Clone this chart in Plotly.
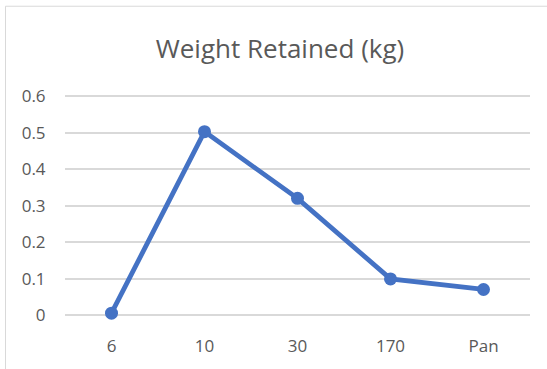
import plotly.graph_objects as go

# Sieve sizes and retained mass
sieves = ["6", "10", "30", "170", "Pan"]
weight_kg = [0.005, 0.503, 0.32, 0.099, 0.07]
y_ticks = [0, 0.1, 0.2, 0.3, 0.4, 0.5, 0.6]
y_tick_text = ["0", "0.1", "0.2", "0.3", "0.4", "0.5", "0.6"]

W, H = 547, 369
ML, MR, MT, MB = 65, 17, 89, 52
plot_w = W - ML - MR
plot_h = H - MT - MB

def px_x(x):
    return (x - ML) / plot_w

def px_y(y):
    return (H - MB - y) / plot_h

fig = go.Figure(
    go.Scatter(
        x=sieves,
        y=weight_kg,
        mode="lines+markers",
        line=dict(color="#4472C4", width=4.8),
        marker=dict(color="#4472C4", size=13),
        cliponaxis=False,
        hoverinfo="skip",
    )
)

fig.update_layout(
    width=W,
    height=H,
    margin=dict(l=ML, r=MR, t=MT, b=MB),
    paper_bgcolor="white",
    plot_bgcolor="white",
    showlegend=False,
    title=dict(
        text="Weight Retained (kg)",
        x=280 / W,
        xanchor="center",
        y=1 - 49 / H,
        yanchor="middle",
        font=dict(family="Open Sans", size=26, color="#595959"),
    ),
    font=dict(family="Open Sans", color="#595959"),
    shapes=[
        dict(
            type="rect",
            xref="paper",
            yref="paper",
            x0=px_x(5.5),
            x1=px_x(560),
            y0=px_y(380),
            y1=px_y(5.5),
            line=dict(color="#D9D9D9", width=1),
            fillcolor="rgba(0,0,0,0)",
            layer="below",
        )
    ],
)

fig.update_xaxes(
    type="category",
    range=[-0.5, 4.5],
    showgrid=False,
    showline=False,
    zeroline=False,
    ticks="outside",
    ticklen=16,
    tickcolor="rgba(0,0,0,0)",
    tickfont=dict(family="Open Sans", size=17, color="#595959"),
)

fig.update_yaxes(
    range=[0, 0.62],
    tickvals=y_ticks,
    ticktext=y_tick_text,
    showgrid=True,
    gridcolor="#D9D9D9",
    gridwidth=1.5,
    zeroline=True,
    zerolinecolor="#D9D9D9",
    zerolinewidth=1.5,
    showline=False,
    ticks="outside",
    ticklen=15,
    tickcolor="rgba(0,0,0,0)",
    tickfont=dict(family="Open Sans", size=17, color="#595959"),
)

fig.write_html("out.html")
